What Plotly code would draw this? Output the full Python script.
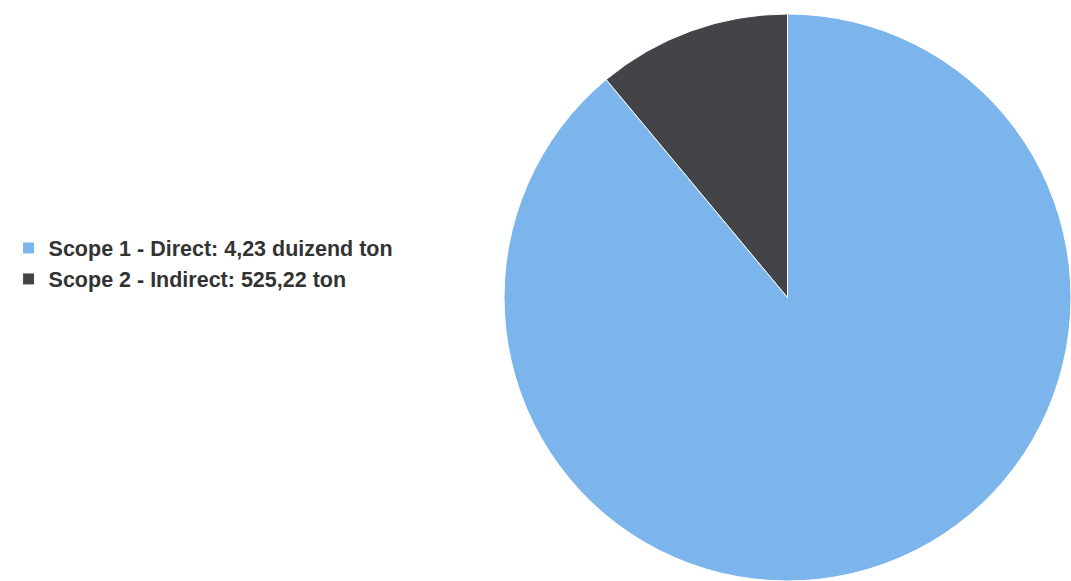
import plotly.graph_objects as go

labels = ["Scope 1 - Direct: 4,23 duizend ton", "Scope 2 - Indirect: 525,22 ton"]
values = [4230, 525.22]
colors = ["#7cb5ec", "#434348"]

W, H = 1071, 581
top_margin = 14
plot_h = H - top_margin
x0 = (W - plot_h) / W

fig = go.Figure(
    go.Pie(
        labels=labels,
        values=values,
        sort=False,
        direction="clockwise",
        rotation=0,
        textinfo="none",
        marker=dict(colors=colors, line=dict(color="#ffffff", width=1)),
        domain=dict(x=[x0, 1], y=[0, 1]),
        hoverinfo="label+percent",
    )
)

fig.update_layout(
    width=W,
    height=H,
    margin=dict(l=0, r=0, t=top_margin, b=0),
    paper_bgcolor="#ffffff",
    plot_bgcolor="#ffffff",
    showlegend=True,
    legend=dict(
        x=0.008,
        y=(H - 263.5) / plot_h,
        xanchor="left",
        yanchor="middle",
        font=dict(family="Liberation Sans, Arial, sans-serif", size=21.5, color="#333333", weight="bold"),
        itemclick=False,
        bgcolor="rgba(0,0,0,0)",
        tracegroupgap=0,
    ),
)

fig.write_html("out.html")
